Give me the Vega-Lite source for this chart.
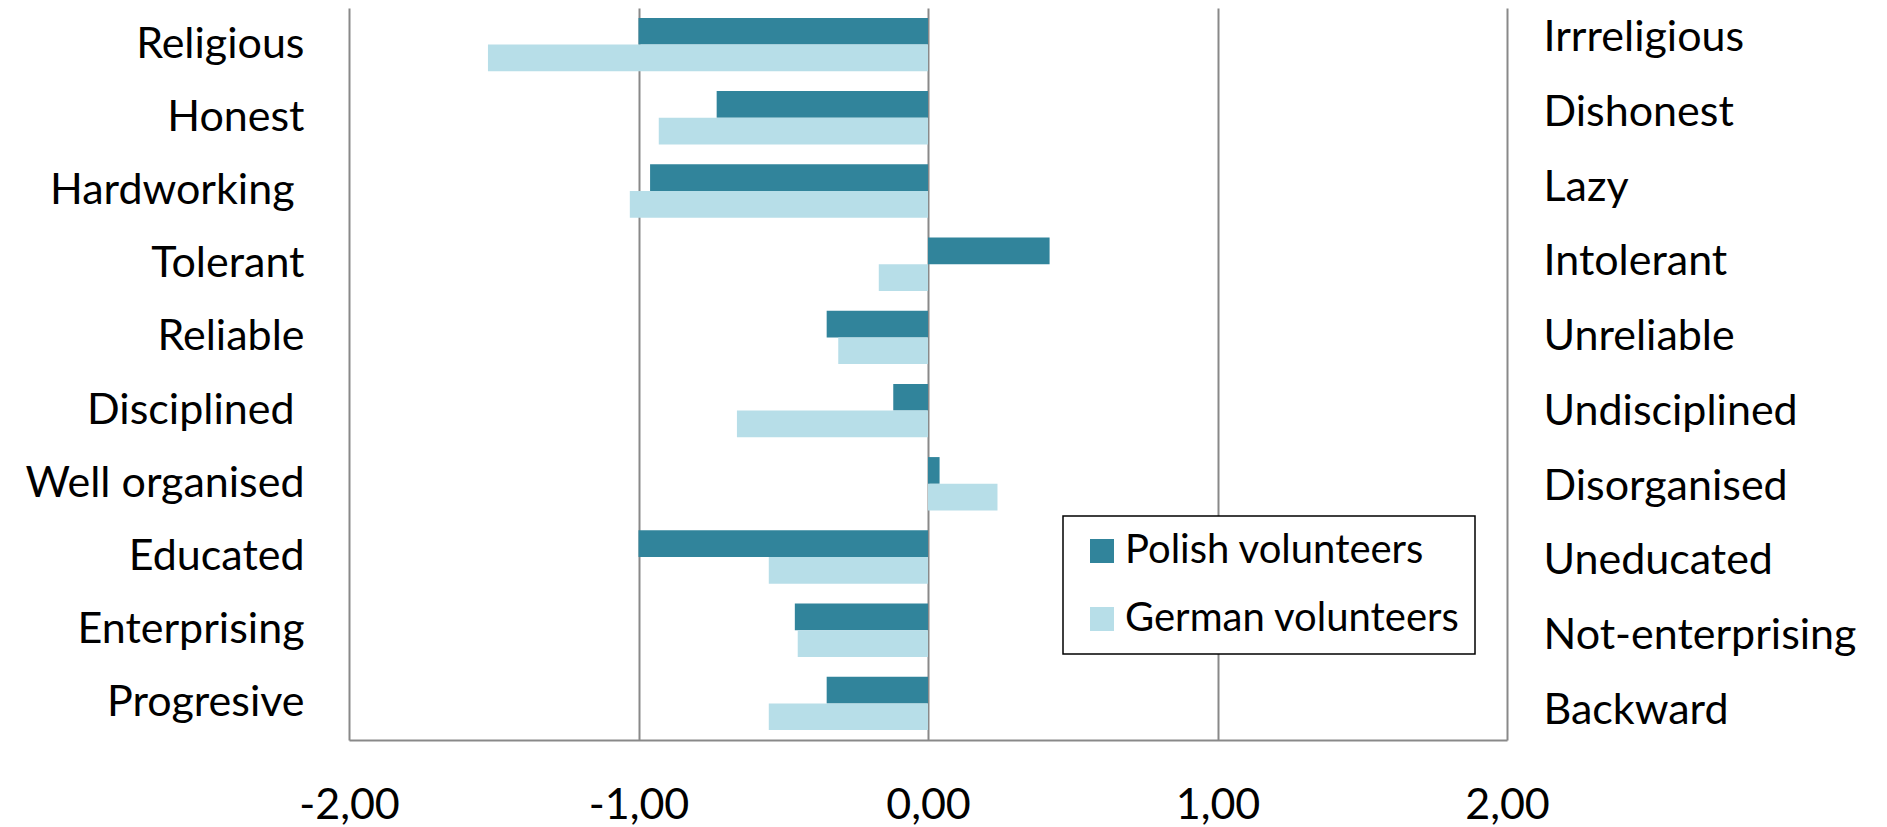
{
  "$schema": "https://vega.github.io/schema/vega-lite/v6.json",
  "width": 1158,
  "height": 732,
  "autosize": "none",
  "padding": {"left": 349, "top": 8, "right": 380, "bottom": 87},
  "background": "white",
  "config": {"font": "Lato", "view": {"stroke": null}},
  "data": {"values": [
    {"order": 1, "left": "Religious", "right": "Irrreligious", "group": "Polish volunteers", "value": -1.00},
    {"order": 1, "left": "Religious", "right": "Irrreligious", "group": "German volunteers", "value": -1.52},
    {"order": 2, "left": "Honest", "right": "Dishonest", "group": "Polish volunteers", "value": -0.73},
    {"order": 2, "left": "Honest", "right": "Dishonest", "group": "German volunteers", "value": -0.93},
    {"order": 3, "left": "Hardworking", "right": "Lazy", "group": "Polish volunteers", "value": -0.96},
    {"order": 3, "left": "Hardworking", "right": "Lazy", "group": "German volunteers", "value": -1.03},
    {"order": 4, "left": "Tolerant", "right": "Intolerant", "group": "Polish volunteers", "value": 0.42},
    {"order": 4, "left": "Tolerant", "right": "Intolerant", "group": "German volunteers", "value": -0.17},
    {"order": 5, "left": "Reliable", "right": "Unreliable", "group": "Polish volunteers", "value": -0.35},
    {"order": 5, "left": "Reliable", "right": "Unreliable", "group": "German volunteers", "value": -0.31},
    {"order": 6, "left": "Disciplined", "right": "Undisciplined", "group": "Polish volunteers", "value": -0.12},
    {"order": 6, "left": "Disciplined", "right": "Undisciplined", "group": "German volunteers", "value": -0.66},
    {"order": 7, "left": "Well organised", "right": "Disorganised", "group": "Polish volunteers", "value": 0.04},
    {"order": 7, "left": "Well organised", "right": "Disorganised", "group": "German volunteers", "value": 0.24},
    {"order": 8, "left": "Educated", "right": "Uneducated", "group": "Polish volunteers", "value": -1.00},
    {"order": 8, "left": "Educated", "right": "Uneducated", "group": "German volunteers", "value": -0.55},
    {"order": 9, "left": "Enterprising", "right": "Not-enterprising", "group": "Polish volunteers", "value": -0.46},
    {"order": 9, "left": "Enterprising", "right": "Not-enterprising", "group": "German volunteers", "value": -0.45},
    {"order": 10, "left": "Progresive", "right": "Backward", "group": "Polish volunteers", "value": -0.35},
    {"order": 10, "left": "Progresive", "right": "Backward", "group": "German volunteers", "value": -0.55}
  ]},
  "layer": [
    {
      "mark": {"type": "bar"},
      "encoding": {
        "y": {
          "field": "left", "type": "nominal",
          "sort": {"field": "order", "op": "min"},
          "scale": {"paddingInner": 0.27, "paddingOuter": 0.135},
          "axis": {"orient": "left", "title": null, "domain": false, "ticks": false, "tickSize": 0, "grid": false,
                   "labelFontSize": 43, "labelColor": "#000", "labelLimit": 0,
                   "labelPadding": {"condition": {"test": "datum.value == 'Hardworking' || datum.value == 'Disciplined'", "value": 55}, "value": 45}}
        },
        "yOffset": {
          "field": "group", "type": "nominal",
          "sort": ["Polish volunteers", "German volunteers"],
          "scale": {"paddingInner": 0, "paddingOuter": 0}
        },
        "x": {
          "field": "value", "type": "quantitative",
          "scale": {"domain": [-2, 2], "nice": false, "zero": false},
          "axis": {
            "title": null, "values": [-2, -1, 0, 1, 2],
            "labelExpr": "datum.value < 0 ? '-' + replace(format(abs(datum.value), '.2f'), '.', ',') : replace(format(datum.value, '.2f'), '.', ',')",
            "grid": true, "gridColor": "#898989", "gridWidth": 2,
            "domainColor": "#898989", "domainWidth": 2,
            "ticks": false, "tickSize": 0,
            "labelFontSize": 43, "labelColor": "#000",
            "labelBaseline": "alphabetic", "labelPadding": 78, "labelFlush": false
          }
        },
        "color": {
          "field": "group", "type": "nominal",
          "scale": {"domain": ["Polish volunteers", "German volunteers"], "range": ["#31849B", "#B7DEE8"]},
          "legend": {
            "title": null, "orient": "none", "legendX": 714, "legendY": 508,
            "fillColor": "white", "strokeColor": "#000", "padding": 15,
            "labelFontSize": 40, "labelColor": "#000", "labelLimit": 0,
            "symbolType": "square", "symbolSize": 576, "symbolStrokeWidth": 0, "symbolOpacity": 1,
            "symbolOffset": 4, "labelOffset": 3, "rowPadding": 28,
            "encode": {"legend": {"update": {"strokeWidth": {"value": 1.5}}}}
          }
        }
      }
    },
    {
      "mark": {"type": "point", "opacity": 0},
      "encoding": {
        "y": {
          "field": "right", "type": "nominal",
          "sort": {"field": "order", "op": "min"},
          "scale": {"type": "point", "padding": 0.4},
          "axis": {"orient": "right", "title": null, "domain": false, "ticks": false, "tickSize": 0, "grid": false,
                   "labelFontSize": 43, "labelColor": "#000", "labelPadding": 36, "labelAlign": "left", "labelLimit": 0}
        },
        "x": {"field": "value", "type": "quantitative"}
      }
    }
  ],
  "resolve": {"scale": {"y": "independent"}, "axis": {"y": "independent"}}
}
